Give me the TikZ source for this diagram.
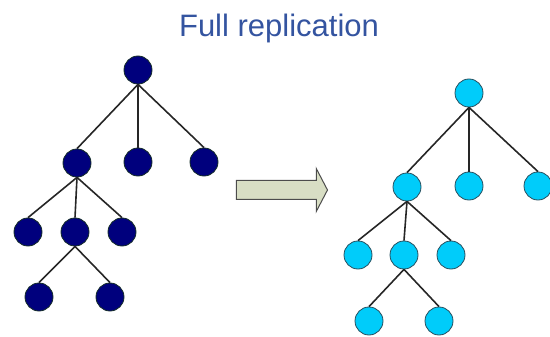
\documentclass[tikz,border=0pt]{standalone}
\usepackage{fontspec}
\setmainfont{Liberation Sans}
\usepackage{tikz}
\usetikzlibrary{shapes.arrows}
\definecolor{titleblue}{RGB}{52,84,160}
\definecolor{darknavy}{RGB}{0,0,125}
\definecolor{navyedge}{RGB}{20,45,40}
\definecolor{lightcyan}{RGB}{0,204,250}
\definecolor{cyanedge}{RGB}{40,80,95}
\definecolor{arrowfill}{RGB}{216,222,196}

\begin{document}
\begin{tikzpicture}[
		x=1pt, y=-1pt,
		vertex/.style={circle, inner sep=0pt, minimum size=28pt},
		orig/.style={vertex, fill=darknavy, draw=navyedge, line width=0.8pt},
		replica/.style={vertex, fill=lightcyan, draw=cyanedge, line width=0.8pt},
		link/.style={line width=1.6pt, draw=black!85}
	]
	\useasboundingbox (0,0) rectangle (550,337);

	\node[anchor=base, font=\fontsize{31}{36}\selectfont, text=titleblue] (title) at (279,37) {Full replication};

	% original tree
	\node[orig] (o-r)   at (138,70)  {};
	\node[orig] (o-a)   at (77,163)  {};
	\node[orig] (o-b)   at (138,162) {};
	\node[orig] (o-c)   at (204,162) {};
	\node[orig] (o-aa)  at (28,232)  {};
	\node[orig] (o-ab)  at (75,232)  {};
	\node[orig] (o-ac)  at (122,232) {};
	\node[orig] (o-aba) at (39,297)  {};
	\node[orig] (o-abb) at (110,297) {};

	% replicated tree
	\node[replica] (c-r)   at (469,93)  {};
	\node[replica] (c-a)   at (407,187) {};
	\node[replica] (c-b)   at (469,186) {};
	\node[replica] (c-c)   at (538,186) {};
	\node[replica] (c-aa)  at (358,255) {};
	\node[replica] (c-ab)  at (404,255) {};
	\node[replica] (c-ac)  at (451,255) {};
	\node[replica] (c-aba) at (369,321) {};
	\node[replica] (c-abb) at (439,321) {};

	% edges, parent bottom to child top
	\foreach \p/\q in {r/a, r/b, r/c, a/aa, a/ab, a/ac, ab/aba, ab/abb}{
		\draw[link] (o-\p.south) -- (o-\q.north);
		\draw[link] (c-\p.south) -- (c-\q.north);
	}

	\node[single arrow, fill=arrowfill, draw=black!70, line width=1pt,
		minimum height=91pt, single arrow head extend=12pt,
		single arrow tip angle=125, inner xsep=0pt, inner ysep=9pt] (move) at (279.5,190) {};
\end{tikzpicture}
\end{document}
